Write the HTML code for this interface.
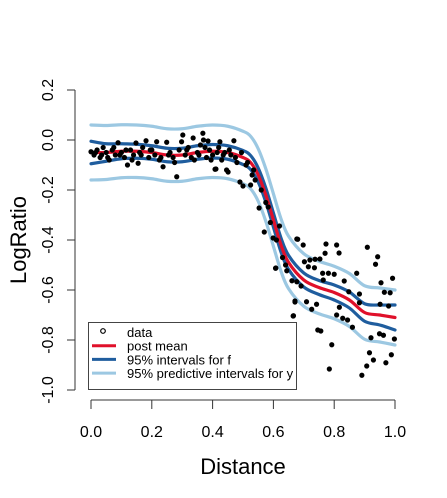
<!DOCTYPE html>
<html><head><meta charset="utf-8"><style>
body{margin:0;background:#fff}
svg{display:block;font-family:"Liberation Sans",sans-serif}
</style></head><body>
<svg id="chart" width="447" height="498" viewBox="0 0 447 498" xmlns="http://www.w3.org/2000/svg">
<g id="axes"></g>
<g id="bands"></g>
<g id="points"></g>
<g id="legend"></g>
</svg>
<script>
const meanX=[0,0.05,0.1,0.15,0.2,0.25,0.3,0.35,0.4,0.45,0.5,0.525,0.55,0.575,0.6,0.625,0.65,0.7,0.75,0.8,0.85,0.9,0.95,1.0];
const meanY=[-0.05,-0.05,-0.045,-0.045,-0.05,-0.06,-0.06,-0.05,-0.045,-0.05,-0.07,-0.09,-0.14,-0.22,-0.32,-0.42,-0.49,-0.56,-0.59,-0.61,-0.64,-0.69,-0.70,-0.71];
const fHalf=[0.045,0.035,0.03,0.028,0.027,0.027,0.027,0.027,0.027,0.027,0.028,0.028,0.028,0.028,0.028,0.028,0.028,0.028,0.028,0.03,0.032,0.035,0.04,0.05];
const yHalf=[0.11,0.108,0.106,0.105,0.105,0.105,0.105,0.105,0.105,0.105,0.105,0.105,0.105,0.105,0.105,0.105,0.105,0.105,0.105,0.105,0.106,0.107,0.108,0.11];
const dataX=[0,0.01,0.02,0.03,0.04,0.05,0.06,0.07,0.08,0.089,0.1,0.11,0.12,0.13,0.14,0.148,0.155,0.16,0.17,0.181,0.19,0.2,0.21,0.216,0.225,0.237,0.249,0.26,0.27,0.282,0.29,0.298,0.302,0.31,0.32,0.336,0.34,0.35,0.36,0.368,0.37,0.38,0.385,0.39,0.4,0.408,0.411,0.42,0.424,0.43,0.44,0.446,0.451,0.46,0.47,0.48,0.49,0.5,0.51,0.525,0.53,0.54,0.553,0.56,0.57,0.575,0.583,0.59,0.599,0.608,0.61,0.62,0.63,0.64,0.015,0.035,0.055,0.075,0.095,0.115,0.135,0.165,0.195,0.23,0.255,0.275,0.315,0.33,0.355,0.375,0.395,0.415,0.435,0.455,0.475,0.495,0.515,0.535,
0.607,0.644,0.661,0.665,0.666,0.671,0.671,0.677,0.677,0.68,0.691,0.698,0.702,0.709,0.715,0.72,0.726,0.735,0.737,0.742,0.746,0.753,0.756,0.762,0.764,0.77,0.773,0.781,0.784,0.792,0.8,0.808,0.808,0.816,0.817,0.828,0.833,0.844,0.848,0.86,0.874,0.883,0.883,0.891,0.907,0.909,0.916,0.921,0.929,0.936,0.943,0.949,0.951,0.954,0.962,0.965,0.97,0.979,0.984,0.988,0.992,0.998];
const dataY=[-0.047,-0.06,-0.04,-0.07,-0.03,-0.05,-0.08,-0.04,-0.06,-0.011,-0.05,-0.07,-0.1,-0.04,-0.06,-0.012,-0.093,-0.05,-0.03,-0.003,-0.07,-0.04,-0.06,-0.007,-0.08,-0.107,-0.009,-0.05,-0.07,-0.147,-0.04,-0.007,0.02,-0.06,-0.03,0.008,-0.08,-0.05,-0.02,0.027,0.0,-0.07,-0.004,-0.04,-0.06,-0.117,-0.116,-0.03,-0.007,-0.08,-0.05,-0.12,-0.128,-0.06,-0.003,-0.09,-0.168,-0.184,-0.1,-0.18,-0.14,-0.16,-0.272,-0.2,-0.368,-0.25,-0.268,-0.33,-0.392,-0.512,-0.4,-0.344,-0.47,-0.5,-0.05,-0.06,-0.07,-0.03,-0.06,-0.04,-0.08,-0.06,-0.04,-0.07,-0.06,-0.09,-0.04,-0.07,-0.06,-0.03,-0.08,-0.05,-0.06,-0.04,-0.07,-0.05,-0.09,-0.12,
-0.513,-0.523,-0.563,-0.704,-0.703,-0.644,-0.648,-0.567,-0.396,-0.397,-0.584,-0.42,-0.487,-0.647,-0.507,-0.48,-0.677,-0.511,-0.477,-0.657,-0.76,-0.476,-0.764,-0.533,-0.56,-0.453,-0.416,-0.533,-0.916,-0.819,-0.537,-0.42,-0.7,-0.452,-0.669,-0.713,-0.564,-0.72,-0.607,-0.749,-0.533,-0.616,-0.651,-0.941,-0.904,-0.429,-0.851,-0.791,-0.88,-0.497,-0.467,-0.775,-0.657,-0.571,-0.781,-0.609,-0.891,-0.664,-0.611,-0.859,-0.553,-0.796];
const xTicks=[0,0.2,0.4,0.6,0.8,1.0];
const xTickLabels=["0.0","0.2","0.4","0.6","0.8","1.0"];
const yTicks=[0.2,0,-0.2,-0.4,-0.6,-0.8,-1.0];
const yTickLabels=["0.2","0.0","-0.2","-0.4","-0.6","-0.8","-1.0"];

const NS="http://www.w3.org/2000/svg";
const sx=v=>91+304*v, sy=v=>140-250*v;
function mk(tag,attrs,parent){const e=document.createElementNS(NS,tag);for(const k in attrs)e.setAttribute(k,attrs[k]);parent.appendChild(e);return e;}
function smooth(xs,ys){
  const p=xs.map((x,i)=>[sx(x),sy(ys[i])]);
  let d="M"+p[0][0]+","+p[0][1];
  for(let i=0;i<p.length-1;i++){
    const p0=p[i-1]||p[i],p1=p[i],p2=p[i+1],p3=p[i+2]||p[i+1];
    const c1=[p1[0]+(p2[0]-p0[0])/6,p1[1]+(p2[1]-p0[1])/6];
    const c2=[p2[0]-(p3[0]-p1[0])/6,p2[1]-(p3[1]-p1[1])/6];
    d+=" C"+c1[0]+","+c1[1]+" "+c2[0]+","+c2[1]+" "+p2[0]+","+p2[1];
  }
  return d;
}
const axes=document.getElementById('axes');
let l=mk('line',{x1:sx(0),x2:sx(1),y1:400,y2:400,stroke:'#333','stroke-width':1},axes);


xTicks.forEach((t,i)=>{
  const tk=mk('line',{x1:sx(t),x2:sx(t),y1:400,y2:409,stroke:'#333'},axes);
  
  
  const tx=mk('text',{x:sx(t),y:437,'text-anchor':'middle','font-size':16,fill:'#000'},axes);
  tx.textContent=xTickLabels[i];
  
  
});
l=mk('line',{x1:75,x2:75,y1:sy(0.2),y2:sy(-1),stroke:'#333'},axes);


yTicks.forEach((t,i)=>{
  const tk=mk('line',{x1:67,x2:75,y1:sy(t),y2:sy(t),stroke:'#333'},axes);
  
  
  const tx=mk('text',{x:0,y:0,'text-anchor':'middle','font-size':16,fill:'#000',transform:`translate(53,${sy(t)}) rotate(-90)`},axes);
  tx.textContent=yTickLabels[i];
  
  
});
let tt=mk('text',{x:243,y:474,'text-anchor':'middle','font-size':22,fill:'#000'},axes);
tt.textContent='Distance';


tt=mk('text',{x:0,y:0,'text-anchor':'middle','font-size':22,fill:'#000',transform:'translate(26,240) rotate(-90)'},axes);
tt.textContent='LogRatio';



const bands=document.getElementById('bands');
function curve(ys,color,name){
  const p=mk('path',{d:smooth(meanX,ys),fill:'none',stroke:color,'stroke-width':3.2,'stroke-linecap':'round'},bands);
  
  
}
curve(meanY.map((m,i)=>m+yHalf[i]),'#9cc8e2','pred-upper');
curve(meanY.map((m,i)=>m-yHalf[i]),'#9cc8e2','pred-lower');
curve(meanY.map((m,i)=>m+fHalf[i]),'#1f5d9e','f-upper');
curve(meanY.map((m,i)=>m-fHalf[i]),'#1f5d9e','f-lower');
curve(meanY,'#e0102a','post-mean');

const pts=document.getElementById('points');
dataX.forEach((x,i)=>{
  const c=mk('circle',{cx:sx(x),cy:sy(dataY[i]),r:2.2,fill:'#000',stroke:'#000','stroke-width':0.8},pts);
  
  
});

const lg=document.getElementById('legend');
let b=mk('rect',{x:88.5,y:322.5,width:208,height:67,fill:'#fff',stroke:'#444','stroke-width':1},lg);


const items=[['data',null],['post mean','#e0102a'],['95% intervals for f','#1f5d9e'],['95% predictive intervals for y','#9cc8e2']];
items.forEach((it,i)=>{
  const y=336+i*13.7;
  if(it[1]){
    const s=mk('line',{x1:92,x2:116,y1:y-4,y2:y-4,stroke:it[1],'stroke-width':3},lg);
    
    
  } else {
    const s=mk('circle',{cx:103,cy:y-5,r:2.3,fill:'none',stroke:'#000','stroke-width':1.2},lg);
    
    
  }
  const t=mk('text',{x:127,y:y+1,'font-size':13,fill:'#000'},lg);
  t.textContent=it[0];
  
  
});
</script>
</body></html>
